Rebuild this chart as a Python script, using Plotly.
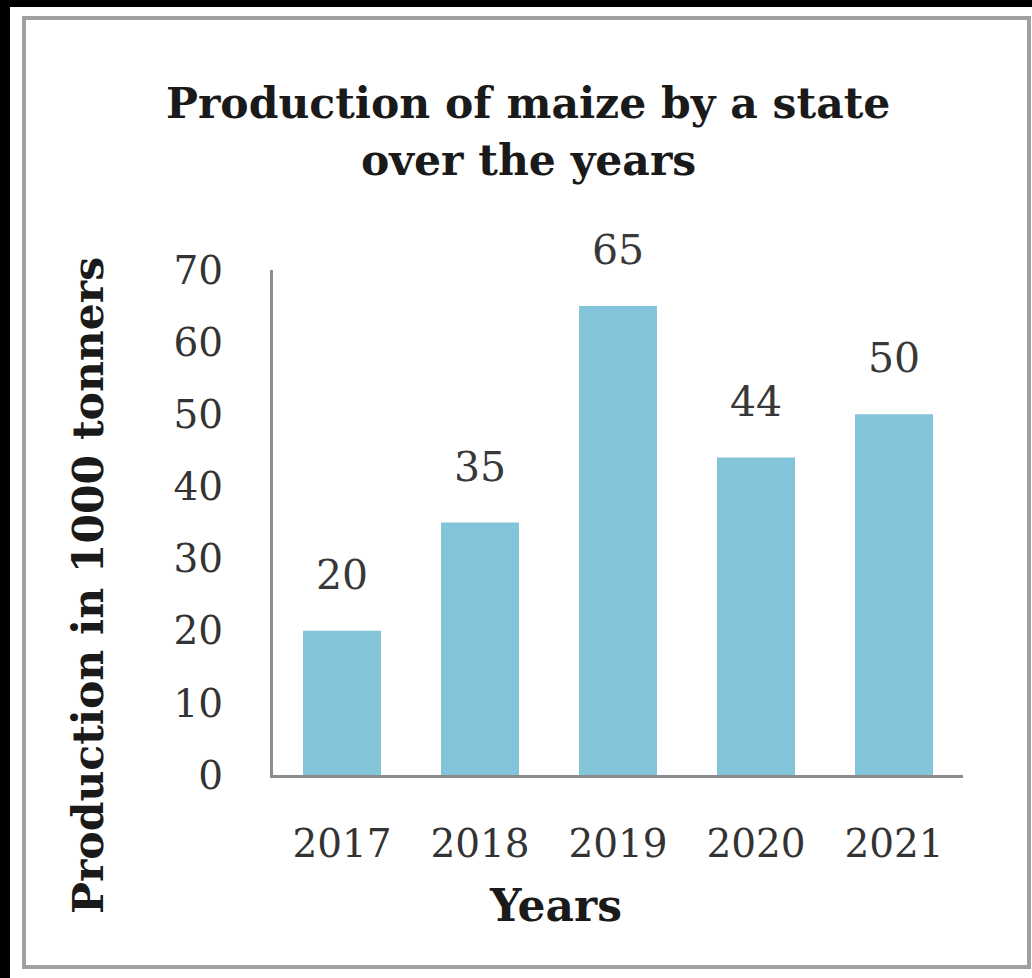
import plotly.graph_objects as go

years = ["2017", "2018", "2019", "2020", "2021"]
production = [20, 35, 65, 44, 50]
y_ticks = [0, 10, 20, 30, 40, 50, 60, 70]
title_lines = ["Production of maize by a state", "over the years"]
y_title = "Production in 1000 tonners"
x_title = "Years"

W, H = 1032, 978
L, R, T, B = 273, 963, 270, 775  # plot area in pixels
pw, ph = R - L, B - T

def px(x):
    return (x - L) / pw

def py(y):
    return (B - y) / ph

SERIF = "DejaVu Serif, Liberation Serif, serif"

fig = go.Figure()
fig.add_trace(go.Bar(
    x=list(range(len(years))), y=production,
    marker=dict(color="#82C4D9", line=dict(width=0)),
    hoverinfo="skip",
))

annotations = []
for i, v in enumerate(production):
    annotations.append(dict(
        x=i, y=v, xref="x", yref="y", text=str(v), showarrow=False,
        yanchor="middle", yshift=56,
        font=dict(family=SERIF, size=41, color="#383838"),
    ))

annotations.append(dict(
    x=px(88), y=py(585), xref="paper", yref="paper",
    text="<b>" + y_title + "</b>", textangle=-90, showarrow=False,
    xanchor="center", yanchor="middle",
    font=dict(family=SERIF, size=42.5, color="#1a1a1a"),
))
annotations.append(dict(
    x=px(555), y=py(905), xref="paper", yref="paper",
    text="<b>" + x_title + "</b>", showarrow=False,
    xanchor="center", yanchor="middle",
    font=dict(family=SERIF, size=44, color="#1a1a1a"),
))
for line, yc in zip(title_lines, [103, 160]):
    annotations.append(dict(
        x=px(528), y=py(yc), xref="paper", yref="paper",
        text="<b>" + line + "</b>", showarrow=False,
        xanchor="center", yanchor="middle",
        font=dict(family=SERIF, size=42.5, color="#1a1a1a"),
    ))

shapes = [
    # black outer frame
    dict(type="rect", xref="paper", yref="paper", layer="below",
         x0=px(-5), x1=px(W + 5), y0=py(H + 5), y1=py(-5),
         fillcolor="black", line=dict(width=0)),
    dict(type="rect", xref="paper", yref="paper", layer="below",
         x0=px(10), x1=px(W + 5), y0=py(H + 5), y1=py(7),
         fillcolor="white", line=dict(width=0)),
    # gray inner border
    dict(type="rect", xref="paper", yref="paper", layer="below",
         x0=px(24), x1=px(1029), y0=py(967), y1=py(18),
         fillcolor="rgba(0,0,0,0)", line=dict(color="#a0a0a0", width=4)),
]

fig.update_layout(
    width=W, height=H,
    margin=dict(l=L, r=W - R, t=T, b=H - B, pad=0),
    paper_bgcolor="white", plot_bgcolor="white",
    showlegend=False, bargap=0.435,
    annotations=annotations, shapes=shapes,
    xaxis=dict(
        range=[-0.5, 4.5], tickvals=list(range(len(years))), ticktext=years,
        showline=True, linecolor="#8c8c8c", linewidth=3,
        showgrid=False, zeroline=False,
        ticks="outside", ticklen=32, tickcolor="rgba(0,0,0,0)",
        tickfont=dict(family=SERIF, size=39, color="#333333"),
    ),
    yaxis=dict(
        range=[0, 70], tickvals=y_ticks,
        showline=True, linecolor="#8c8c8c", linewidth=3,
        showgrid=False, zeroline=False,
        ticks="outside", ticklen=39, tickcolor="rgba(0,0,0,0)",
        tickfont=dict(family=SERIF, size=39, color="#333333"),
    ),
)

fig.write_html(
    "out.html",
    config={"displayModeBar": False},
    post_script="document.body.style.margin='0px';document.body.style.overflow='hidden';",
)
